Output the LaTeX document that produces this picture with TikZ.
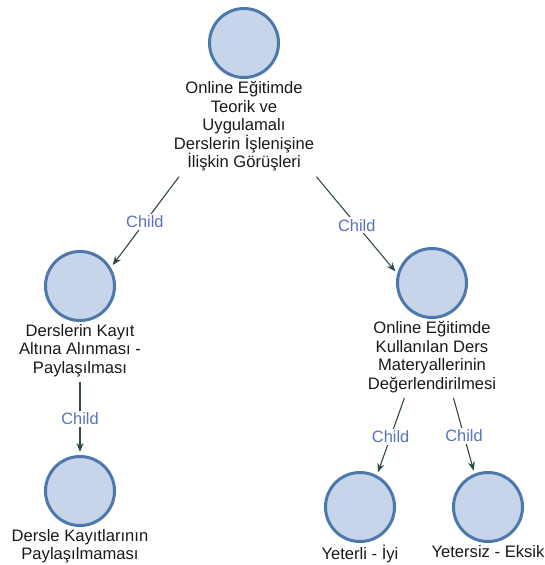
\documentclass[tikz,border=0pt]{standalone}
\usepackage{fontspec}
\setmainfont{Liberation Sans}
\usetikzlibrary{positioning,fit,arrows.meta}
\definecolor{topicfill}{RGB}{198,213,234}
\definecolor{topicline}{RGB}{76,120,172}
\definecolor{edgegray}{RGB}{47,72,72}
\definecolor{childblue}{RGB}{92,114,184}
\definecolor{captext}{RGB}{25,25,25}
\begin{document}
\begin{tikzpicture}[x=1pt, y=-1pt,
  topic/.style={circle, draw=topicline, line width=3pt, fill=topicfill, minimum size=69pt, inner sep=0pt},
  topiclabel/.style={below=1pt of #1, align=center, inner sep=1pt, text=captext, font=\fontsize{16.6}{18.6}\selectfont},
  grp/.style={inner sep=4pt},
  childarrow/.style={-{Stealth[length=9pt,width=7pt]}, draw=edgegray, line width=1.1pt, shorten >=3pt},
  rel/.style={midway, fill=white, inner sep=2pt, text=childblue, font=\fontsize{16.4}{18}\selectfont}]
\useasboundingbox (0,0) rectangle (544,565);
\node[topic] (root) at (244,43) {};
\node[topiclabel=root] (rootlbl) {Online Eğitimde\\Teorik ve\\Uygulamalı\\Derslerin İşlenişine\\İlişkin Görüşleri};
\node[grp, fit=(root)(rootlbl)] (rootg) {};
\node[topic] (dk) at (80,286) {};
\node[topiclabel=dk] (dklbl) {Derslerin Kayıt\\Altına Alınması -\\Paylaşılması};
\node[grp, fit=(dk)(dklbl)] (dkg) {};
\node[topic] (ode) at (432,283) {};
\node[topiclabel=ode] (odelbl) {Online Eğitimde\\Kullanılan Ders\\Materyallerinin\\Değerlendirilmesi};
\node[grp, fit=(ode)(odelbl)] (odeg) {};
\node[topic] (dkp) at (80,491) {};
\node[topiclabel=dkp] (dkplbl) {Dersle Kayıtlarının\\Paylaşılmaması};
\node[topic] (yi) at (360,507) {};
\node[topiclabel=yi] (yilbl) {Yeterli - İyi};
\node[topic] (ye) at (488,507) {};
\node[topiclabel=ye] (yelbl) {Yetersiz - Eksik};
\draw[childarrow] (rootg) -- node[rel] {Child} (dk.31);
\draw[childarrow] (rootg) -- node[rel] {Child} (ode.165);
\draw[childarrow] (dkg) -- node[rel] {Child} (dkp.90);
\draw[childarrow] (odeg) -- node[rel] {Child} (yi.62);
\draw[childarrow] (odeg) -- node[rel] {Child} (ye.112);
\end{tikzpicture}
\end{document}
